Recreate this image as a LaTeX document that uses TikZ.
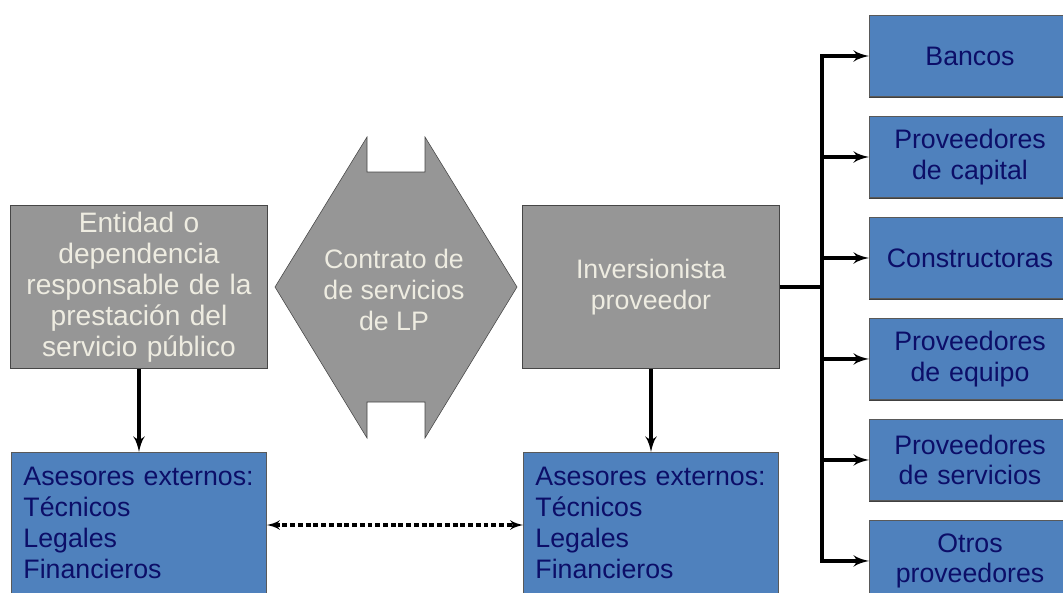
\documentclass[tikz,border=0pt]{standalone}
\usepackage{fontspec}
\setmainfont{Liberation Sans}
\usepackage{tikz}
\usetikzlibrary{arrows,positioning,shapes,shadows}
\definecolor{boxgrey}{RGB}{150,150,150}
\definecolor{boxblue}{RGB}{79,129,189}
\definecolor{navytext}{RGB}{12,14,104}
\definecolor{paletext}{RGB}{238,236,225}

\tikzset{
  txt/.style={font=\fontsize{19}{22}\selectfont},
  greybox/.style={rectangle,draw=gray!55!black,fill=boxgrey,text=paletext,txt,
    minimum width=6.375cm,minimum height=4.075cm,text width=6.2cm,align=center},
  advbox/.style={rectangle,draw=black!65,fill=boxblue,text=navytext,txt,
    minimum width=6.375cm,text width=5.775cm,align=left,inner xsep=0.3cm,inner ysep=0.38cm,
    text depth=3cm},
  suppbox/.style={rectangle,draw=black!65,fill=boxblue,text=navytext,txt,
    minimum width=5cm,minimum height=2.025cm,text width=4.8cm,align=center,
    drop shadow={shadow xshift=0pt,shadow yshift=-1.2pt,fill=black!75,opacity=1}},
  link/.style={line width=2.8pt},
}

\begin{document}
\begin{tikzpicture}[x=0.025cm,y=-0.025cm,>=latex',node distance=0.485cm]
\useasboundingbox (0,0) rectangle (1063,592);
\clip (0,0) rectangle (1063,592);
\node [greybox,font=\fontsize{20}{22}\selectfont] at (139,287) (ent) {Entidad o\\dependencia\\responsable de la\\prestación del\\servicio público};
\node [greybox] at (651,287) (inv) {Inversionista\\proveedor};
% contrato
\draw [draw=gray!55!black,fill=boxgrey] (275,287) -- (367,137) -- (367,172) -- (425,172) -- (425,137)
  -- (517,287) -- (425,438) -- (425,402) -- (367,402) -- (367,438) -- cycle;
\node [txt,text=paletext,align=center] at (394,290) (ctr) {Contrato de\\de servicios\\de LP};
\node [advbox,anchor=north] at (139,452) (aseL) {Asesores externos:\\Técnicos\\Legales\\Financieros};
\node [advbox,anchor=north] at (651,452) (aseR) {Asesores externos:\\Técnicos\\Legales\\Financieros};
% proveedores
\node [suppbox] at (970,56) (bancos) {Bancos};
\node [suppbox,below=of bancos] (capital) {Proveedores\\de capital};
\node [suppbox,below=of capital] (constr) {Constructoras};
\node [suppbox,below=of constr] (equipo) {Proveedores\\de equipo};
\node [suppbox,below=of equipo] (serv) {Proveedores\\de servicios};
\node [suppbox,below=of serv] (otros) {Otros\\proveedores};
\coordinate (bus) at (822,287);
\draw [link] (inv.east) -- (bus);
\foreach \n in {bancos,capital,constr,equipo,serv,otros}
  \draw [link,->] (bus) |- (\n.west);
\draw [link,->] (ent.south) -- (aseL.north);
\draw [link,->] (inv.south) -- (aseR.north);
\draw [line width=2.2pt,dash pattern=on 3.5pt off 2pt,<->] (aseL.east |- 0,525) -- (aseR.west |- 0,525);

\end{tikzpicture}
\end{document}
